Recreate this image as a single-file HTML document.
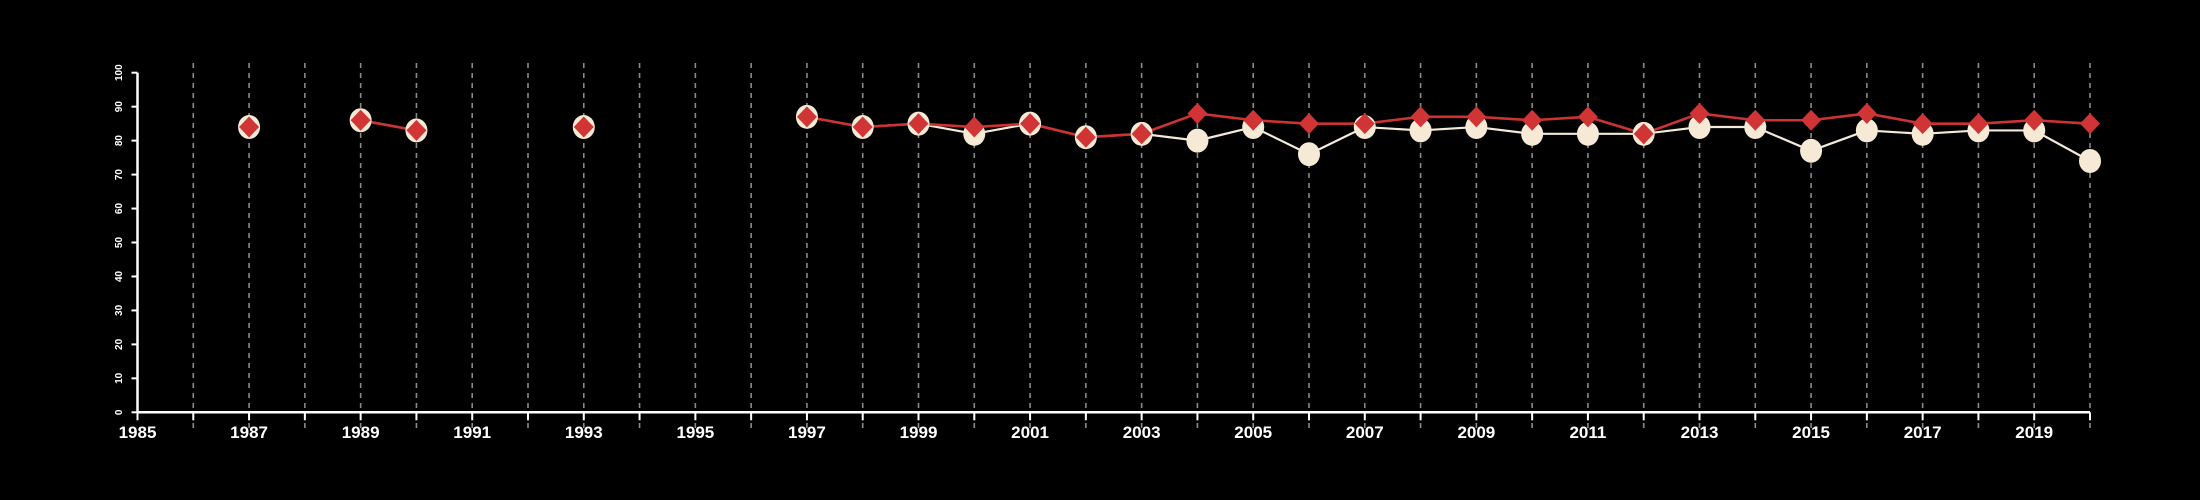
<!DOCTYPE html>
<html><head><meta charset="utf-8"><style>
html,body{margin:0;padding:0;background:#000;}
svg{display:block;}
</style></head><body>
<svg id="chart" width="2200" height="500" viewBox="0 0 2200 500" xmlns="http://www.w3.org/2000/svg">
<rect width="2200" height="500" fill="#000"/>
<g id="grid"></g>
<g id="axes"></g>
<g id="series"></g>
</svg>
<script>
const years = [1987,1989,1990,1993,1997,1998,1999,2000,2001,2002,2003,2004,2005,2006,2007,2008,2009,2010,2011,2012,2013,2014,2015,2016,2017,2018,2019,2020];
const redValues = [84,86,83,84,87,84,85,84,85,81,82,88,86,85,85,87,87,86,87,82,88,86,86,88,85,85,86,85];
const whiteValues = [84,86,83,84,87,84,85,82,85,81,82,80,84,76,84,83,84,82,82,82,84,84,77,83,82,83,83,74];
const yTicks = [0,10,20,30,40,50,60,70,80,90,100];
const xTickLabels = ['1985','1987','1989','1991','1993','1995','1997','1999','2001','2003','2005','2007','2009','2011','2013','2015','2017','2019'];

const NS='http://www.w3.org/2000/svg';
const X0=137.5, X1=2090, Y0=412.3, Y1=72.7, YR0=1985, YR1=2020;
function xs(v){return X0+(v-YR0)*(X1-X0)/(YR1-YR0);}
function ys(v){return Y0-(v-0)*(Y0-Y1)/100;}
function mk(tag,attrs,parent){const e=document.createElementNS(NS,tag);for(const k in attrs)e.setAttribute(k,attrs[k]);parent.appendChild(e);return e;}
const grid=document.getElementById('grid'), axes=document.getElementById('axes'), series=document.getElementById('series');

// axes
let ax=mk('line',{x1:X0,y1:Y0,x2:X1,y2:Y0,stroke:'#fff','stroke-width':2.5},axes);


let ay=mk('line',{x1:X0,y1:Y0,x2:X0,y2:Y1,stroke:'#fff','stroke-width':2.5},axes);


for(const t of yTicks){
  const y=ys(t);
  mk('line',{x1:X0-6,y1:y,x2:X0,y2:y,stroke:'#fff','stroke-width':2},axes);
  const tx=mk('text',{x:0,y:0,transform:`translate(${X0-18},${y}) rotate(-90)`,'text-anchor':'middle','dominant-baseline':'central',fill:'#fff','font-family':'Liberation Sans, sans-serif','font-size':10,'font-weight':'bold'},axes);
  tx.textContent=t;
  
  
}
for(let yr=YR0;yr<=YR1;yr++){
  const x=xs(yr);
  mk('line',{x1:x,y1:Y0,x2:x,y2:Y0+8,stroke:'#fff','stroke-width':2},axes);
  if(yr>YR0){
    const g=mk('line',{x1:x,y1:63,x2:x,y2:428,stroke:'#8a8a8a','stroke-width':1.6,'stroke-dasharray':'5,5'},grid);
    
    
  }
}
for(const lab of xTickLabels){
  const tx=mk('text',{x:xs(+lab),y:438,'text-anchor':'middle',fill:'#fff','font-family':'Liberation Sans, sans-serif','font-size':17,'font-weight':'bold'},axes);
  tx.textContent=lab;
  
  
}

function drawLines(vals,color,w,name){
  for(let i=1;i<years.length;i++){
    if(years[i]-years[i-1]===1){
      const l=mk('line',{x1:xs(years[i-1]),y1:ys(vals[i-1]),x2:xs(years[i]),y2:ys(vals[i]),stroke:color,'stroke-width':w},series);
      
      
    }
  }
}
drawLines(whiteValues,'#f3ead8',2.2,'white-series-line');
drawLines(redValues,'#cc3333',2.6,'red-series-line');
for(let i=0;i<years.length;i++){
  const c=mk('ellipse',{cx:xs(years[i]),cy:ys(whiteValues[i]),rx:11,ry:12,fill:'#f6ead6'},series);
  
  
}
for(let i=0;i<years.length;i++){
  const x=xs(years[i]),y=ys(redValues[i]);
  const d=mk('polygon',{points:`${x},${y-10.5} ${x+10},${y} ${x},${y+10.5} ${x-10},${y}`,fill:'#d03434'},series);
  
  
}
</script>
</body></html>
